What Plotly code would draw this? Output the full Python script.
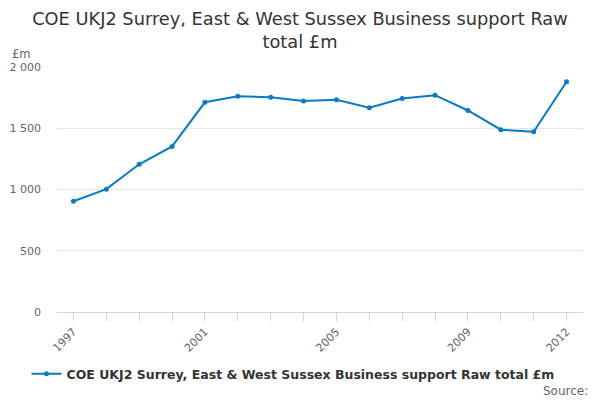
import plotly.graph_objects as go

years = [str(y) for y in range(1997, 2013)]
values = [904, 1003, 1206, 1352, 1712, 1762, 1753, 1723, 1733, 1667, 1743, 1770, 1645, 1488, 1472, 1879]
label_years = ["1997", "2001", "2005", "2009", "2012"]
series_name = "COE UKJ2 Surrey, East & West Sussex Business support Raw total £m"

fig = go.Figure()
fig.add_trace(go.Scatter(
    x=years, y=values, mode="lines+markers", name="<b>" + series_name + "</b>",
    line=dict(color="#0a7bc2", width=2),
    marker=dict(color="#0a7bc2", size=5),
))

fig.update_layout(
    width=600, height=400,
    paper_bgcolor="white", plot_bgcolor="white",
    font=dict(family="DejaVu Sans", color="#666666", size=11),
    separators=". ",
    margin=dict(l=57, r=17, t=67, b=88, autoexpand=False),
    title=dict(
        text="COE UKJ2 Surrey, East & West Sussex Business support Raw<br>total £m",
        x=0.5, xanchor="center", y=0.9375, yanchor="top",
        font=dict(size=17.8, color="#333333", family="DejaVu Sans"),
    ),
    showlegend=True,
    legend=dict(
        orientation="h", x=0.5 - 7 / 600, xanchor="center", xref="container",
        y=0.065, yanchor="middle", yref="container",
        font=dict(size=12.5, color="#333333", family="DejaVu Sans"),
        itemwidth=30,
    ),
    xaxis=dict(
        type="category", range=[-0.5, 15.5],
        tickmode="array", tickvals=years,
        ticktext=[y if y in label_years else "" for y in years],
        tickangle=-45, ticks="outside", ticklen=8, tickcolor="#ccd6eb",
        showline=True, linecolor="#ccd6eb", linewidth=1,
        showgrid=False, tickfont=dict(size=11, color="#666666"),
    ),
    yaxis=dict(
        range=[0, 2000], tickvals=[0, 500, 1000, 1500, 2000],
        separatethousands=True, tickformat=",d",
        showgrid=True, gridcolor="#e6e6e6", zeroline=False,
        tickfont=dict(size=11, color="#666666"), ticklabelstandoff=15,
    ),
    annotations=[
        dict(text="£m", xref="paper", yref="paper", x=-0.09, y=1.015,
             xanchor="left", yanchor="bottom", showarrow=False,
             font=dict(size=11.5, color="#666666")),
        dict(text="Source:", xref="paper", yref="paper", x=1.013, y=-0.322,
             xanchor="right", yanchor="middle", showarrow=False,
             font=dict(size=12, color="#666666")),
    ],
)

fig.write_html("out.html", config={"displayModeBar": False},
               post_script="document.body.style.margin='0';")
